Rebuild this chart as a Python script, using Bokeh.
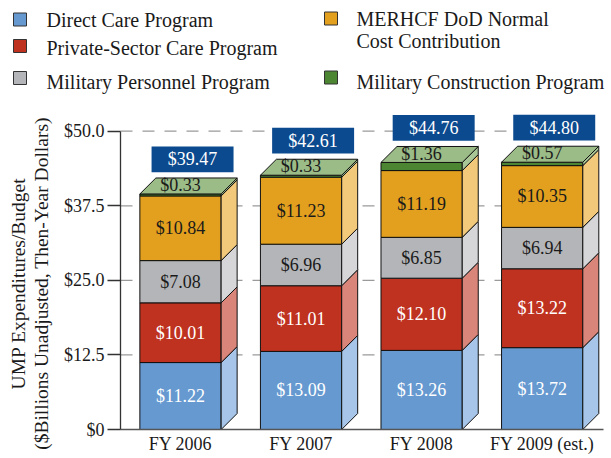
import math
from bokeh.plotting import figure
from bokeh.models import Range1d, FixedTicker
from bokeh.embed import file_html
from bokeh.resources import INLINE
from bokeh.core.properties import value

# ---------------- data ----------------
categories = ["FY 2006", "FY 2007", "FY 2008", "FY 2009 (est.)"]
direct_care = [11.22, 13.09, 13.26, 13.72]
private_sector = [10.01, 11.01, 12.10, 13.22]
military_personnel = [7.08, 6.96, 6.85, 6.94]
merhcf = [10.84, 11.23, 11.19, 10.35]
military_construction = [0.33, 0.33, 1.36, 0.57]
totals = [39.47, 42.61, 44.76, 44.80]
series_names = ["Direct Care Program", "Private-Sector Care Program",
                "Military Personnel Program", "MERHCF DoD Normal\nCost Contribution",
                "Military Construction Program"]
y_ticks = [0, 12.5, 25.0, 37.5, 50.0]
y_tick_labels = ["$0", "$12.5", "$25.0", "$37.5", "$50.0"]
y_title = "UMP Expenditures/Budget\n($Billions Unadjusted, Then-Year Dollars)"

# ---------------- style ----------------
FONT = "Liberation Serif"
front = ["#6699D0", "#BF3220", "#B4B5B8", "#E3A01E", "#4C8632"]
side = ["#A6C5E9", "#D9857A", "#D6D6D8", "#F2C97B", "#A9C796"]
top_col = "#9BBB87"
label_col = ["white", "white", "#1a1a1a", "#1a1a1a", "#1a1a1a"]
total_box = "#0B4A8E"
TXT = "#1a1a1a"

W, H = 611, 458
# page-pixel calibration (figure sits at the page origin)
PX_PER_UNIT = 5.966
PX_PER_CAT = 120.56
CAT0_PX = 180.0
ZERO_PX = 429.0


def dx_(px):
    return (px - CAT0_PX) / PX_PER_CAT


def dy_(py):
    return (ZERO_PX - py) / PX_PER_UNIT


p = figure(width=W, height=H, x_range=Range1d(dx_(0), dx_(W)),
           y_range=Range1d(dy_(H), dy_(0)),
           output_backend="svg", toolbar_location=None,
           min_border_left=0, min_border_right=0, min_border_top=0, min_border_bottom=0)
p.outline_line_color = None
p.background_fill_color = "white"
p.border_fill_color = "white"
p.grid.visible = False

xs = list(range(len(categories)))
AX_LEFT = dx_(120)
AX_RIGHT = dx_(603)

# axes (placed inside the frame at fixed locations)
p.xaxis.fixed_location = 0
p.xaxis.bounds = (AX_LEFT, AX_RIGHT)
p.xaxis.ticker = FixedTicker(ticks=xs)
p.xaxis.major_label_overrides = {i: c for i, c in zip(xs, categories)}
p.xaxis.major_tick_out = 0
p.xaxis.major_tick_in = 0
p.xaxis.minor_tick_line_color = None
p.xaxis.axis_line_color = "#555555"
p.xaxis.axis_line_width = 1.3
p.xaxis.major_label_standoff = 4
p.xaxis.major_label_text_font = FONT
p.xaxis.major_label_text_font_size = "18px"
p.xaxis.major_label_text_color = TXT

p.yaxis.fixed_location = AX_LEFT
p.yaxis.ticker = FixedTicker(ticks=y_ticks)
p.yaxis.major_label_overrides = {t: l for t, l in zip(y_ticks, y_tick_labels)}
p.yaxis.bounds = (0, 50)
p.yaxis.major_tick_out = 13
p.yaxis.major_tick_in = 0
p.yaxis.minor_tick_line_color = None
p.yaxis.axis_line_color = "#333333"
p.yaxis.axis_line_width = 1.3
p.yaxis.major_tick_line_color = "#333333"
p.yaxis.major_tick_line_width = 1.3
p.yaxis.major_label_standoff = 3
p.yaxis.major_label_text_font = FONT
p.yaxis.major_label_text_font_size = "18px"
p.yaxis.major_label_text_color = TXT

# dashed horizontal grid lines (between the axis and the right edge)
p.segment(x0=[AX_LEFT] * 4, x1=[AX_RIGHT] * 4, y0=y_ticks[1:], y1=y_ticks[1:],
          line_color="#9a9a9a", line_width=1.3, line_dash="12 10", level="underlay")

# y-axis title (two rotated lines)
title_lines = y_title.split("\n")
p.text(x=[dx_(17.5 + 23 * j) for j in range(len(title_lines))],
       y=[dy_(283)] * len(title_lines), text=title_lines, angle=math.pi / 2,
       text_font=value(FONT), text_font_size="19.5px", text_color=TXT,
       text_align="center", text_baseline="middle")

# legend (squares + labels), positions in page px
sq_x = [19.5, 19.5, 19.5, 330.5, 330.5]
sq_y = [19, 45.5, 77.5, 18, 77]
tx_x = [46, 46, 46, 356, 356]
tx_y = [19.3, 47.7, 81.7, 18.3, 81.7]
p.rect(x=[dx_(v) for v in sq_x], y=[dy_(v) for v in sq_y], width=13, height=13,
       width_units="screen", height_units="screen",
       fill_color=front, line_color="#333333", line_width=1)
lx, ly, lt = [], [], []
for i, name in enumerate(series_names):
    for j, line in enumerate(name.split("\n")):
        lx.append(dx_(tx_x[i]))
        ly.append(dy_(tx_y[i] + 21.7 * j))
        lt.append(line)
p.text(x=lx, y=ly, text=lt, text_font=value(FONT), text_font_size="20px",
       text_color=TXT, text_align="left", text_baseline="alphabetic")

# bars
BW = 0.674
DX = 0.1327
DY = 2.68
series = [direct_care, private_sector, military_personnel, merhcf, military_construction]
bottoms = [0.0] * len(xs)
for k, vals in enumerate(series):
    tops = [b + v for b, v in zip(bottoms, vals)]
    p.vbar(x=xs, bottom=bottoms, top=tops, width=BW, fill_color=front[k],
           line_color="#111111", line_width=1)
    sx = [[x + BW / 2, x + BW / 2 + DX, x + BW / 2 + DX, x + BW / 2] for x in xs]
    sy = [[b, b + DY, t + DY, t] for b, t in zip(bottoms, tops)]
    p.patches(xs=sx, ys=sy, fill_color=side[k], line_color="#111111", line_width=1)
    if k < len(series) - 1:
        mids = [(b + t) / 2 for b, t in zip(bottoms, tops)]
        p.text(x=xs, y=mids, text=["$%.2f" % v for v in vals], text_font=value(FONT),
               text_font_size="18px", text_color=label_col[k],
               text_align="center", text_baseline="middle")
    bottoms = tops

# top faces
tx = [[x - BW / 2, x + BW / 2, x + BW / 2 + DX, x - BW / 2 + DX] for x in xs]
ty = [[t, t, t + DY, t + DY] for t in bottoms]
p.patches(xs=tx, ys=ty, fill_color=top_col, line_color="#111111", line_width=1)

# top-segment labels (on the top face)
p.text(x=xs, y=[t + 1.5 for t in bottoms], text=["$%.2f" % v for v in military_construction],
       text_font=value(FONT), text_font_size="18px", text_color=label_col[4],
       text_align="center", text_baseline="middle")

# totals boxes
bx = [x + 0.1 for x in xs]
by = [t + 5.8 for t in bottoms]
p.rect(x=bx, y=by, width=0.68, height=4.3, fill_color=total_box, line_color=None)
p.text(x=bx, y=by, text=["$%.2f" % v for v in totals], text_font=value(FONT),
       text_font_size="18px", text_color="white", text_align="center", text_baseline="middle")

open("out.html", "w").write(file_html(p, INLINE))
